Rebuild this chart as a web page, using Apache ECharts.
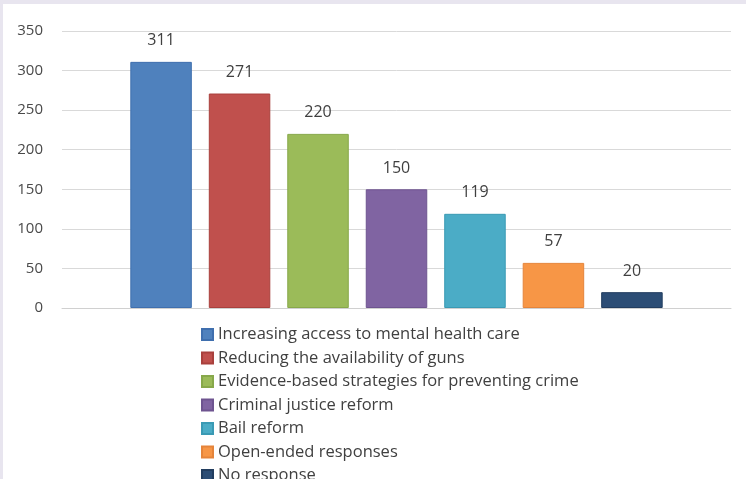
<!DOCTYPE html>
<html>
<head>
<meta charset="utf-8">
<script src="https://cdn.jsdelivr.net/npm/echarts@6/dist/echarts.min.js"></script>
<style>
html,body{margin:0;padding:0;background:#fff;}
#c{width:746px;height:479px;}
</style>
</head>
<body>
<div id="c"></div>
<script>
const categories = ["Responses"];
const seriesNames = [
  "Increasing access to mental health care",
  "Reducing the availability of guns",
  "Evidence-based strategies for preventing crime",
  "Criminal justice reform",
  "Bail reform",
  "Open-ended responses",
  "No response"
];
const seriesValues = [311, 271, 220, 150, 119, 57, 20];
const colors = ["#4f81bd", "#c0504d", "#9bbb59", "#8064a2", "#4bacc6", "#f79646", "#2c4d75"];
const borderColors = ["#3f6fae", "#a9403d", "#87a84a", "#6e5490", "#3a9ab4", "#e5843a", "#223d5f"];
const yTicks = { min: 0, max: 350, interval: 50 };

const chart = echarts.init(document.getElementById('c'));
const series = seriesNames.map((name, i) => ({
  name: name,
  type: 'bar',
  data: [seriesValues[i]],
  barWidth: 61.5,
  barGap: '27.6%',
  itemStyle: { color: colors[i], borderColor: borderColors[i], borderWidth: 1 },
  label: {
    show: true,
    position: 'top',
    distance: 13,
    color: '#404040',
    fontFamily: 'Open Sans',
    fontSize: 16
  },
  emphasis: { disabled: true }
}));

chart.setOption({
  animation: false,
  backgroundColor: '#ffffff',
  color: colors,
  graphic: [
    { type: 'rect', left: 0, top: 0, shape: { width: 746, height: 4 }, style: { fill: '#e8e5ef' } },
    { type: 'rect', left: 0, top: 0, shape: { width: 3, height: 479 }, style: { fill: '#e8e5ef' } }
  ],
  grid: { left: 62, right: 15, top: 31, bottom: 171, containLabel: false },
  xAxis: {
    type: 'category',
    data: categories,
    axisLine: { show: true, lineStyle: { color: '#d0d0d0', width: 1 } },
    axisTick: { show: false },
    axisLabel: { show: false }
  },
  yAxis: {
    type: 'value',
    min: yTicks.min,
    max: yTicks.max,
    interval: yTicks.interval,
    axisLine: { show: false },
    axisTick: { show: false },
    axisLabel: { color: '#4a4a4a', fontFamily: 'Open Sans', fontSize: 15, margin: 19 },
    splitLine: { lineStyle: { color: '#d9d9d9', width: 1 } }
  },
  legend: {
    orient: 'vertical',
    left: 201,
    top: 326,
    height: 220,
    padding: 0,
    itemWidth: 11,
    itemHeight: 11,
    itemGap: 6.5,
    icon: 'rect',
    data: seriesNames,
    selectedMode: false,
    textStyle: { color: '#404040', fontFamily: 'Open Sans', fontSize: 16.5, lineHeight: 15.5 }
  },
  series: series
});
</script>
</body>
</html>
